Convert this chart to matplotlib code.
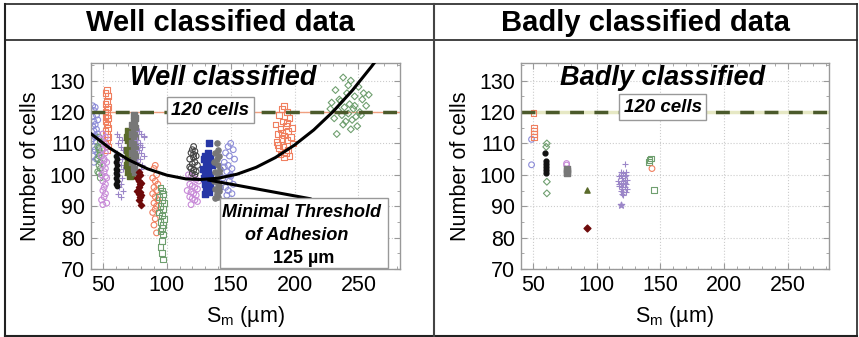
import numpy as np
import matplotlib.pyplot as plt
from matplotlib.ticker import MultipleLocator, AutoMinorLocator

plt.rcParams['font.family'] = ['Liberation Sans', 'DejaVu Sans']

# ---------------- data: well classified ----------------
lav = '#8c8cd8'
green = '#6f9f6f'
salmon = '#f07f5f'
pink = '#c88ad8'
purple = '#9b86c8'
olive = '#5b6b2b'
gray = '#777777'
darkred = '#6e0a0a'
blue = '#2636a6'

c1_x = [42, 44, 43, 45, 42, 46, 43, 44, 42, 45, 43, 46, 44, 42, 45, 43, 44, 46, 42, 45, 43, 44]
c1_y = [122, 121.5, 120.5, 119, 118.5, 117.5, 117, 116, 115.5, 114.5, 114, 113, 112.5, 111.5, 110.5, 109, 108, 107, 106, 105, 104, 112]
c2_x = [47, 48, 46, 47, 48, 47, 46, 48, 47, 48, 46, 47, 48, 47]
c2_y = [112, 110.5, 109, 108, 107, 106, 105, 104, 103, 102, 101, 100.5, 99, 108.5]
c3_x = [53, 52, 54, 53, 52, 54, 53, 52, 53, 54, 52, 53, 54, 52, 53, 54, 53, 52, 54, 53, 52]
c3_y = [127, 126, 125, 123.5, 122.5, 121.5, 121, 120, 119, 118, 117, 116, 115, 114, 113, 112, 111, 110, 109, 108, 118.5]
c4_x = [50, 52, 49, 51, 53, 50, 52, 49, 51, 53, 50, 52, 51, 49, 53, 50, 52, 51, 50, 52, 51, 49, 53, 50, 52, 51]
c4_y = [113, 112, 111, 110, 109, 108, 107, 106, 105, 104, 103, 102, 101, 100, 99, 98, 97, 96, 95, 94, 93, 92, 91, 90.5, 99.5, 104.5]
c5_x = [61, 63, 65, 62, 64, 66, 61, 63, 65, 62, 64, 66, 63, 61, 65, 62, 64, 63, 66, 62, 64]
c5_y = [113, 112, 111, 110, 109, 108, 107, 106, 105, 104, 103, 102, 101, 100, 99, 98, 97, 96, 95, 94, 93]
c6_x = [60, 61, 60, 61, 60, 61, 60, 61, 60, 61, 60, 61]
c6_y = [106, 105, 104, 103, 102, 101.5, 100.5, 100, 99, 98, 97, 96.5]
c7_x = [70, 71, 69, 70, 72, 71, 69, 70, 71, 72, 70, 69, 71, 70, 72, 71]
c7_y = [114, 113, 112, 111, 110, 109, 108, 107, 106, 105, 104, 103, 102, 101, 100, 99.5]
c8_x = [74, 75, 74, 73, 75, 74, 73, 75, 74, 73, 75, 74, 73, 75, 74, 73, 74, 75]
c8_y = [119, 118, 117, 116, 115, 114, 113, 112, 111, 110, 109, 108, 107, 106, 105, 104, 102, 101]
c9_x = [78, 80, 82, 77, 79, 81, 78, 80, 82, 79, 77, 81, 80, 78, 82, 79]
c9_y = [114, 113, 112, 111, 110, 109, 108, 107, 106, 105, 104, 103, 102, 101, 112.5, 109.5]
c10_x = [78, 79, 77, 78, 80, 79, 78, 77, 79, 78, 80, 79, 78, 80]
c10_y = [101, 100, 99, 98, 97.5, 97, 96, 95, 94.5, 94, 93.5, 93, 92, 90.5]
c11_x = [91, 90, 92, 89, 91, 93, 90, 92, 89, 91, 93, 90, 92, 91, 89, 91, 90, 92]
c11_y = [103, 102, 100, 99, 98, 97, 96, 95, 94, 93, 92, 91, 90, 89, 88, 86, 84, 81.5]
c12_x = [95, 96, 97, 94, 96, 98, 95, 97, 94, 96, 98, 95, 97, 96, 95, 97, 96, 95, 96, 97]
c12_y = [96, 95, 94, 93, 92, 91, 90, 89, 88, 87, 86, 85, 84, 83, 82, 81, 79, 77, 75, 73]
c13_x = [117, 119, 121, 123, 125, 118, 120, 122, 124, 116, 119, 121, 123, 118, 120, 122, 124, 119]
c13_y = [100, 99.5, 99, 98.5, 98, 97, 96.5, 96, 95.5, 95, 94.5, 94, 93.5, 93, 92.5, 92, 91.5, 90.5]
c14_x = [121, 120, 122, 119, 123, 121, 118, 122, 120, 124, 119, 121, 123, 120, 122, 118, 121]
c14_y = [109, 108, 107.5, 107, 106, 105.5, 105, 104, 103.5, 103, 102, 101.5, 101, 100.5, 100, 102.5, 106.5]
c15_x = [133, 132, 130, 134, 129, 131, 133, 135, 128, 130, 132, 134, 129, 131, 133, 130, 132, 134, 131, 133, 130, 132]
c15_y = [110, 107, 106, 105.5, 105, 104, 103.5, 103, 102, 101, 100.5, 100, 99, 98.5, 98, 97, 96.5, 96, 95, 94.5, 94, 102.5]
c16_x = [139, 140, 138, 141, 139, 137, 140, 142, 138, 141, 139, 137, 140, 142, 138, 141, 139, 140, 138, 141]
c16_y = [110, 108, 107, 106, 105, 104, 103, 102, 101, 100, 99, 98, 97, 96, 95.5, 95, 94, 93, 92.5, 100.5]
c17_x = [150, 148, 152, 146, 149, 153, 145, 148, 151, 147, 150, 144, 149, 152, 146, 148, 151, 147, 150, 145]
c17_y = [110, 109, 108, 107, 106, 105, 104, 103, 102, 101, 100, 99, 98, 97, 96, 95, 94, 93.5, 99.5, 102.5]
c18_x = [192, 190, 194, 188, 196, 191, 185, 193, 198, 189, 195, 187, 192, 197, 190, 194, 186, 199, 191, 188, 195, 193, 189, 196, 192, 190, 194, 187]
c18_y = [122, 121, 120, 119, 118, 117, 116, 115.5, 115, 114.5, 114, 113, 112.5, 112, 111.5, 111, 110.5, 110, 109, 108.5, 108, 107, 106.5, 106, 105.5, 113.5, 116.5, 109.5]
c19_x = [238, 244, 250, 232, 241, 247, 253, 236, 229, 243, 256, 239, 246, 234, 251, 242, 237, 248, 231, 245, 240, 254, 235, 249, 244, 238, 258, 228, 242, 247, 233, 252]
c19_y = [131, 130, 128, 127, 126, 125, 124, 123.5, 123, 122.5, 122, 121.5, 121, 120.5, 120, 119.5, 119, 118.5, 118, 117.5, 117, 126, 124, 115.5, 114.5, 116, 125.5, 121, 128.5, 122, 113, 119]

# fitted threshold curve
curve_x = [40, 55, 70, 85, 100, 115, 126, 140, 155, 170, 185, 200, 215, 230, 245, 260, 265]
curve_y = [113.3, 108.6, 104.8, 101.9, 99.9, 98.7, 98.5, 98.9, 100.2, 102.4, 105.5, 109.5, 114.3, 120.1, 126.8, 134.4, 137.1]

# ---------------- data: badly classified ----------------
b_lav_x = [49, 49]
b_lav_y = [111.3, 103.2]
b_sal_x = [50.5, 51, 51, 51, 51]
b_sal_y = [119.6, 114.8, 113.9, 113, 112.1]
b_grn_x = [61, 60.5, 61, 61]
b_grn_y = [110, 108.9, 97.8, 94.1]
b_blk_x = [59.5, 60, 60, 60, 60, 60]
b_blk_y = [106.8, 104.4, 103.5, 102.4, 101.4, 100.7]
b_pink_x = [76.5, 76.5]
b_pink_y = [103.6, 103.1]
b_gray_x = [76.5, 76.5, 76.5]
b_gray_y = [102, 101.2, 100.5]
b_tri_x = [92.5]
b_tri_y = [95.3]
b_dred_x = [92.5]
b_dred_y = [83.1]
b_plus_x = [122, 119, 121, 123, 118, 120, 122, 124, 117, 119, 121, 123, 118, 120, 122, 124, 119, 121, 123, 120, 118, 122, 121, 119, 123, 120, 122, 121]
b_plus_y = [103.5, 101, 100.5, 100, 99.5, 99, 98.5, 98.5, 98, 97.5, 97, 97, 96.5, 96, 96, 95.5, 95, 94.5, 94.5, 94, 97, 99.5, 93.5, 100, 101, 95.5, 97.5, 98]
b_star_x = [119.5]
b_star_y = [90.4]
b_gsq_x = [141.5, 142.5, 141, 145]
b_gsq_y = [104.8, 105.2, 104.1, 95.2]
b_salc_x = [143.5]
b_salc_y = [102]

xticks = [50, 100, 150, 200, 250]
yticks = [70, 80, 90, 100, 110, 120, 130]

fig = plt.figure(figsize=(8.59, 3.37), dpi=100)

# table frame
fig.add_artist(plt.Line2D([0.006, 0.998], [0.988, 0.988], color='#222222', lw=1.2))
fig.add_artist(plt.Line2D([0.006, 0.998], [0.003, 0.003], color='#222222', lw=1.5))
fig.add_artist(plt.Line2D([0.006, 0.006], [0.003, 0.988], color='#222222', lw=1.5))
fig.add_artist(plt.Line2D([0.998, 0.998], [0.003, 0.988], color='#222222', lw=1.2))
fig.add_artist(plt.Line2D([0.006, 0.998], [0.881, 0.881], color='#222222', lw=1.2))
fig.add_artist(plt.Line2D([0.5055, 0.5055], [0.003, 0.988], color='#444444', lw=1.5))
fig.text(0.256, 0.932, 'Well classified data', ha='center', va='center', fontsize=21, fontweight='bold')
fig.text(0.752, 0.932, 'Badly classified data', ha='center', va='center', fontsize=21, fontweight='bold')

ax1 = fig.add_axes([0.1056, 0.2018, 0.3601, 0.612])
ax2 = fig.add_axes([0.6062, 0.2018, 0.3590, 0.612])


def style(ax):
    ax.set_xlim(40.5, 282.5)
    ax.set_ylim(70, 135.7)
    ax.set_xticks(xticks)
    ax.set_yticks(yticks)
    ax.xaxis.set_minor_locator(AutoMinorLocator(5))
    ax.yaxis.set_minor_locator(AutoMinorLocator(2))
    ax.tick_params(which='both', direction='in', top=True, right=True, color='#999999', labelsize=15.5, pad=4)
    ax.tick_params(which='major', length=4)
    ax.tick_params(which='minor', length=2)
    ax.grid(True, which='major', linestyle=':', color='#cccccc', lw=0.8)
    for s in ax.spines.values():
        s.set_color('#999999')
        s.set_linewidth(1.0)
    ax.set_ylabel('Number of cells', fontsize=15.5, labelpad=6)
    ax.set_xlabel('S$_\\mathregular{m}$ (µm)', fontsize=15.5, labelpad=6)
    ax.set_axisbelow(True)


style(ax1)
style(ax2)

ms = 17
op = dict(facecolors='none', linewidths=0.8, s=ms)
ax1.axhline(120, color='#f0a080', lw=1.0, zorder=1)
ax1.axhline(120, color='#4b5a2b', lw=2.5, ls=(0, (4, 3)), zorder=2)
ax1.scatter(c1_x, c1_y, marker='o', edgecolors=lav, **op)
ax1.scatter(c2_x, c2_y, marker='o', edgecolors=green, **op)
ax1.scatter(c3_x, c3_y, marker='s', edgecolors=salmon, **op)
ax1.scatter(c4_x, c4_y, marker='o', edgecolors=pink, **op)
ax1.scatter(c5_x, c5_y, marker='+', color=purple, s=22, linewidths=0.8)
ax1.scatter(c6_x, c6_y, marker='o', color='#111111', s=10)
ax1.scatter(c7_x, c7_y, marker='s', color=olive, s=14)
ax1.scatter(c8_x, c8_y, marker='s', color=gray, s=14)
ax1.scatter(c9_x, c9_y, marker='+', color=purple, s=22, linewidths=0.8)
ax1.scatter(c10_x, c10_y, marker='D', color=darkred, s=10)
ax1.scatter(c11_x, c11_y, marker='o', edgecolors=salmon, **op)
ax1.scatter(c12_x, c12_y, marker='s', edgecolors=green, **op)
ax1.scatter(c13_x, c13_y, marker='o', edgecolors=pink, **op)
ax1.scatter(c14_x, c14_y, marker='o', edgecolors='#444444', **op)
ax1.scatter(c15_x, c15_y, marker='s', color=blue, s=14)
ax1.scatter(c16_x, c16_y, marker='o', color=gray, s=14)
ax1.scatter(c17_x, c17_y, marker='o', edgecolors=lav, **op)
ax1.scatter(c18_x, c18_y, marker='s', edgecolors=salmon, **op)
ax1.scatter(c19_x, c19_y, marker='D', edgecolors=green, facecolors='none', linewidths=0.8, s=12)
ax1.plot(curve_x, curve_y, color='black', lw=2.2, zorder=5)
ax1.plot([133, 212], [98.3, 92.4], color='black', lw=2.2, zorder=5)

box = dict(boxstyle='square,pad=0.25', fc='white', ec='#999999', lw=1.0)
ax1.text(0.428, 0.926, 'Well classified', transform=ax1.transAxes, ha='center', va='center',
         fontsize=19.5, fontweight='bold', fontstyle='italic', zorder=6)
ax1.text(134, 120.6, '120 cells', ha='center', va='center', fontsize=13.5, fontweight='bold',
         fontstyle='italic', bbox=box, zorder=6)
ax1.add_patch(plt.Rectangle((141.8, 70.3), 131, 22.2, fc='white', ec='#999999', lw=1.0, zorder=6))
ax1.text(205.7, 88.1, 'Minimal Threshold', ha='center', va='center', fontsize=13,
         fontweight='bold', fontstyle='italic', zorder=7)
ax1.text(201.8, 80.7, 'of Adhesion', ha='center', va='center', fontsize=13,
         fontweight='bold', fontstyle='italic', zorder=7)
ax1.text(207, 73.4, '125 µm', ha='center', va='center', fontsize=13, fontweight='bold', zorder=7)

ax2.axhline(120, color='#e6e8c4', lw=2.5, zorder=1)
ax2.axhline(120, color='#4b5a2b', lw=2.5, ls=(0, (4, 3)), zorder=2)
ax2.scatter(b_lav_x, b_lav_y, marker='o', edgecolors=lav, **op)
ax2.scatter(b_sal_x, b_sal_y, marker='s', edgecolors=salmon, **op)
ax2.scatter(b_grn_x, b_grn_y, marker='D', edgecolors=green, facecolors='none', linewidths=0.8, s=12)
ax2.scatter(b_blk_x, b_blk_y, marker='o', color='#111111', s=12)
ax2.scatter(b_pink_x, b_pink_y, marker='o', edgecolors=pink, **op)
ax2.scatter(b_gray_x, b_gray_y, marker='s', color=gray, s=14)
ax2.scatter(b_tri_x, b_tri_y, marker='^', color=olive, s=14)
ax2.scatter(b_dred_x, b_dred_y, marker='D', color=darkred, s=12)
ax2.scatter(b_plus_x, b_plus_y, marker='+', color=purple, s=22, linewidths=0.8)
ax2.scatter(b_star_x, b_star_y, marker='*', color=purple, s=22)
ax2.scatter(b_gsq_x, b_gsq_y, marker='s', edgecolors=green, **op)
ax2.scatter(b_salc_x, b_salc_y, marker='o', edgecolors=salmon, **op)
ax2.text(0.46, 0.928, 'Badly classified', transform=ax2.transAxes, ha='center', va='center',
         fontsize=19.5, fontweight='bold', fontstyle='italic', zorder=6)
ax2.text(151.8, 121.6, '120 cells', ha='center', va='center', fontsize=13.5, fontweight='bold',
         fontstyle='italic', bbox=box, zorder=6)

fig.savefig('out.png', dpi=100)
